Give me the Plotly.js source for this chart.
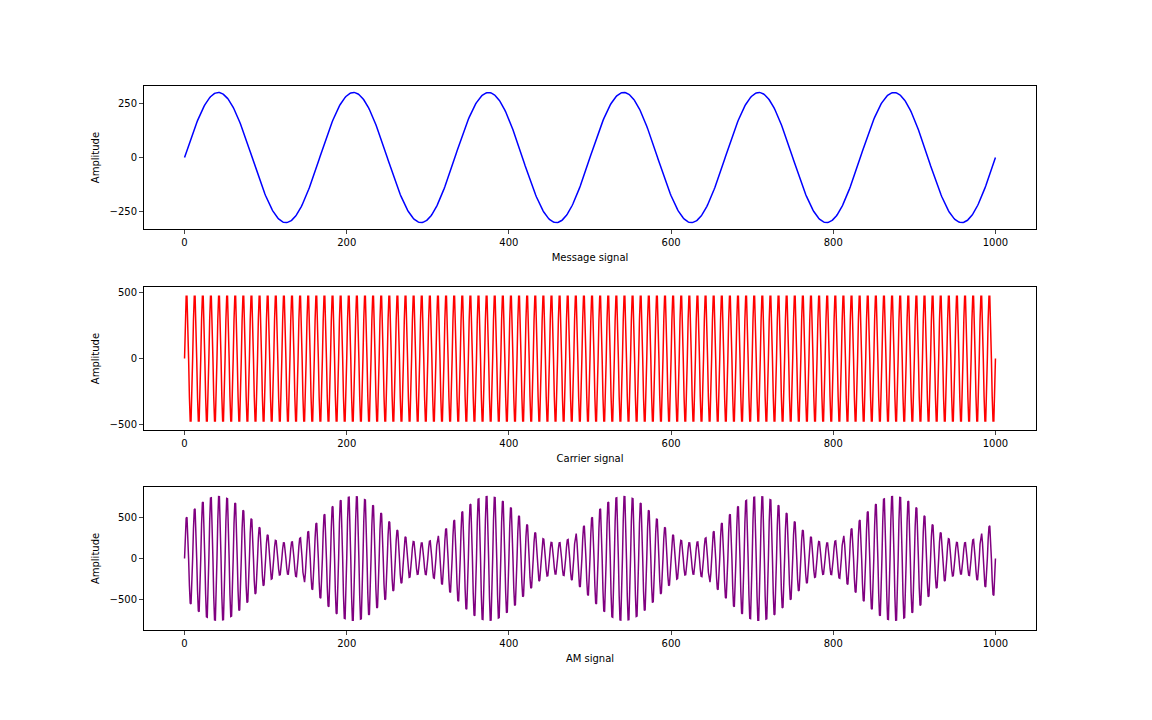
<!DOCTYPE html>
<html>
<head>
<meta charset="utf-8">
<script src="https://cdn.plot.ly/plotly-3.0.1.min.js"></script>
<style>body{margin:0;background:#fff}#plot{width:1152px;height:720px}</style>
</head>
<body>
<div id="plot"></div>
<script>
// values
var nSamples = [1000];
var messageAmp = [300];
var messageCycles = [6];
var carrierAmp = [500];
var carrierPeriod = [10];

var t = [], msg = [], car = [], am = [];
for (var i = 0; i <= nSamples[0]; i++) {
  var m = messageAmp[0] * Math.sin(2 * Math.PI * messageCycles[0] * i / nSamples[0]);
  var c = Math.sin(2 * Math.PI * i / carrierPeriod[0]);
  t.push(i);
  msg.push(m);
  car.push(carrierAmp[0] * c);
  am.push((carrierAmp[0] + m) * c);
}

var font = {family: 'DejaVu Sans', size: 10, color: '#000'};
function xax(title, anchor) {
  return {range: [-50, 1050], tickvals: [0, 200, 400, 600, 800, 1000], ticks: 'outside', ticklen: 4,
    showgrid: false, zeroline: false, showline: true, mirror: true, linecolor: '#000', linewidth: 1,
    anchor: anchor, title: {text: title, font: font, standoff: 6}, tickfont: font};
}
function yax(dom, rng, vals, anchor) {
  return {domain: dom, range: rng, tickvals: vals, ticks: 'outside', ticklen: 4,
    showgrid: false, zeroline: false, showline: true, mirror: true, linecolor: '#000', linewidth: 1,
    anchor: anchor, title: {text: 'Amplitude', font: font, standoff: 8}, tickfont: font};
}

var data = [
  {x: t, y: msg, mode: 'lines', line: {color: 'blue', width: 1.5}, xaxis: 'x', yaxis: 'y'},
  {x: t, y: car, mode: 'lines', line: {color: 'red', width: 1.5}, xaxis: 'x2', yaxis: 'y2'},
  {x: t, y: am, mode: 'lines', line: {color: 'purple', width: 1.5}, xaxis: 'x3', yaxis: 'y3'}
];

var layout = {
  width: 1152, height: 720, showlegend: false,
  margin: {l: 144, r: 116, t: 86, b: 90},
  paper_bgcolor: '#fff', plot_bgcolor: '#fff', font: font,
  xaxis: xax('Message signal', 'y'),
  yaxis: yax([0.737, 1], [-330, 330], [-250, 0, 250], 'x'),
  xaxis2: xax('Carrier signal', 'y2'),
  yaxis2: yax([0.3676, 0.6305], [-545, 545], [-500, 0, 500], 'x2'),
  xaxis3: xax('AM signal', 'y3'),
  yaxis3: yax([0, 0.263], [-880, 880], [-500, 0, 500], 'x3')
};

Plotly.newPlot('plot', data, layout, {displayModeBar: false});
</script>
</body>
</html>
